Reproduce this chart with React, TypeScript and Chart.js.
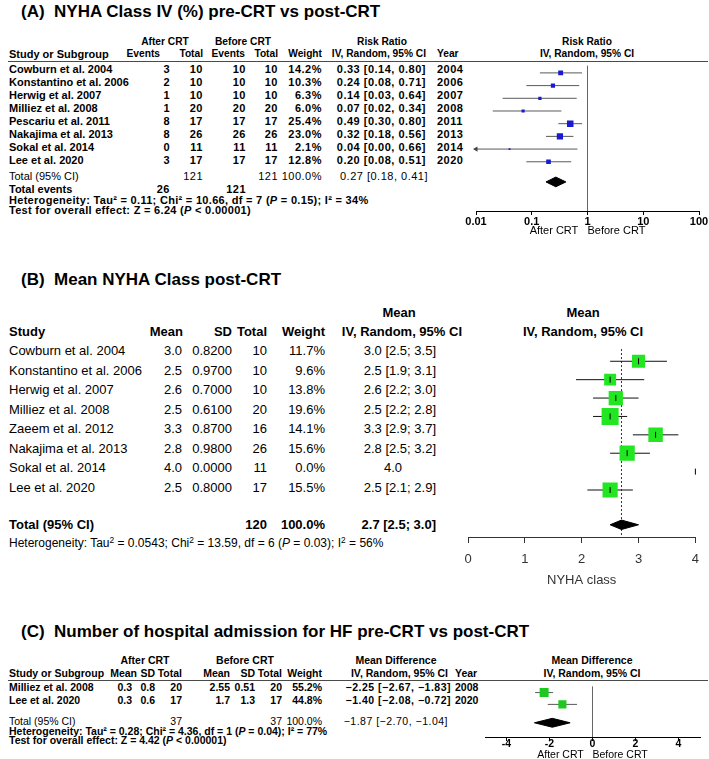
import React, { useEffect, useRef } from "react";
import { Chart, registerables } from "chart.js";

Chart.register(...registerables);

const SANS = '"Liberation Sans", Arial, Helvetica, sans-serif';
Chart.defaults.font.family = SANS;

// ---------- (A) NYHA Class IV (%) pre-CRT vs post-CRT ----------
const A_STUDIES = ["Cowburn et al. 2004", "Konstantino et al. 2006", "Herwig et al. 2007", "Milliez et al. 2008", "Pescariu et al. 2011", "Nakajima et al. 2013", "Sokal et al. 2014", "Lee et al. 2020"];
const A_AFTER_EVENTS = [3, 2, 1, 1, 8, 8, 0, 3];
const A_AFTER_TOTAL = [10, 10, 10, 20, 17, 26, 11, 17];
const A_BEFORE_EVENTS = [10, 10, 10, 20, 17, 26, 11, 17];
const A_BEFORE_TOTAL = [10, 10, 10, 20, 17, 26, 11, 17];
const A_WEIGHT = [14.2, 10.3, 6.3, 6.0, 25.4, 23.0, 2.1, 12.8];
const A_RR = [0.33, 0.24, 0.14, 0.07, 0.49, 0.32, 0.04, 0.2];
const A_LOW = [0.14, 0.08, 0.03, 0.02, 0.3, 0.18, 0.0, 0.08];
const A_HIGH = [0.8, 0.71, 0.64, 0.34, 0.8, 0.56, 0.66, 0.51];
const A_YEAR = [2004, 2006, 2007, 2008, 2011, 2013, 2014, 2020];
const A_POOLED = [0.27, 0.18, 0.41];
const A_TOTALS = [121, 121];
const A_TOTAL_EVENTS = [26, 121];
const A_TICKS = [0.01, 0.1, 1, 10, 100];

// ---------- (B) Mean NYHA Class post-CRT ----------
const B_STUDIES = ["Cowburn et al. 2004", "Konstantino et al. 2006", "Herwig et al. 2007", "Milliez et al. 2008", "Zaeem et al. 2012", "Nakajima et al. 2013", "Sokal et al. 2014", "Lee et al. 2020"];
const B_MEAN = [3.0, 2.5, 2.6, 2.5, 3.3, 2.8, 4.0, 2.5];
const B_SD = [0.82, 0.97, 0.7, 0.61, 0.87, 0.98, 0.0, 0.8];
const B_TOTAL = [10, 10, 10, 20, 16, 26, 11, 17];
const B_WEIGHT = [11.7, 9.6, 13.8, 19.6, 14.1, 15.6, 0.0, 15.5];
const B_LOW: (number | null)[] = [2.5, 1.9, 2.2, 2.2, 2.9, 2.5, null, 2.1];
const B_HIGH: (number | null)[] = [3.5, 3.1, 3.0, 2.8, 3.7, 3.2, null, 2.9];
const B_POOLED = [2.7, 2.5, 3.0];
const B_TOTAL_N = 120;
const B_TICKS = [0, 1, 2, 3, 4];

// ---------- (C) Hospital admission for HF ----------
const C_STUDIES = ["Milliez et al. 2008", "Lee et al. 2020"];
const C_AFTER_MEAN = [0.3, 0.3];
const C_AFTER_SD = [0.8, 0.6];
const C_AFTER_TOTAL = [20, 17];
const C_BEFORE_MEAN = [2.55, 1.7];
const C_BEFORE_SD = [0.51, 1.3];
const C_BEFORE_TOTAL = [20, 17];
const C_WEIGHT = [55.2, 44.8];
const C_MD = [-2.25, -1.4];
const C_LOW = [-2.67, -2.08];
const C_HIGH = [-1.83, -0.72];
const C_YEAR = [2008, 2020];
const C_POOLED = [-1.87, -2.7, -1.04];
const C_TOTALS = [37, 37];
const C_TICKS = [-4, -2, 0, 2, 4];

// ---------- layout (pixels) ----------
const LA = { rule: 61, row0: 68.5, pitch: 13.1, total: 176, diamond: 181, events: 189, het: 199.5, test: 210, axis: 211, cLeft: 451, cRight: 709, plotL: 476, plotR: 699, cBottom: 238 };
const LB = { top: 337, row0: 350, pitch: 19.57, total: 524, het: 543, axis: 537, cLeft: 448, cRight: 708, plotL: 468, plotR: 698, cBottom: 588 };
const LC = { rule: 680, row0: 687, pitch: 13.3, total: 721, het: 730.5, test: 740, axis: 737, cLeft: 465, cRight: 709, plotL: 485, plotR: 700, cBottom: 759 };

const rowPx = (L: { row0: number; pitch: number }, i: number) => L.row0 + L.pitch * i;
const rowIdx = (L: { row0: number; pitch: number }, px: number) => (px - L.row0) / L.pitch;

const TITLE: React.CSSProperties = { fontFamily: SANS, fontSize: 17, fontWeight: 700 };
const RB: React.CSSProperties = { fontFamily: SANS, fontSize: 11, fontWeight: 700 };
const RBh: React.CSSProperties = { ...RB, fontSize: 10.2 };
const RBn: React.CSSProperties = { ...RB, letterSpacing: 0.5 };
const RN: React.CSSProperties = { fontFamily: SANS, fontSize: 11, fontWeight: 400 };
const RNn: React.CSSProperties = { ...RN, letterSpacing: 0.5 };
const RH: React.CSSProperties = { ...RB, letterSpacing: 0.3 };
const CB: React.CSSProperties = { fontFamily: SANS, fontSize: 10.5, fontWeight: 700 };
const CBw: React.CSSProperties = { ...CB, letterSpacing: 0.5 };
const CN: React.CSSProperties = { fontFamily: SANS, fontSize: 10.5, fontWeight: 400 };
const CNw: React.CSSProperties = { ...CN, letterSpacing: 0.5 };
const MB: React.CSSProperties = { fontFamily: SANS, fontSize: 13, fontWeight: 700 };
const MN: React.CSSProperties = { fontFamily: SANS, fontSize: 13, fontWeight: 400 };
const MH: React.CSSProperties = { fontFamily: SANS, fontSize: 12, fontWeight: 400 };

function T({ x, y, a = "l", s, children }: { x: number; y: number; a?: "l" | "r" | "c"; s?: React.CSSProperties; children: React.ReactNode }) {
  const tx = a === "l" ? "0" : a === "r" ? "-100%" : "-50%";
  return (
    <div style={{ position: "absolute", left: x, top: y, transform: `translate(${tx},-50%)`, whiteSpace: "pre", lineHeight: 1, color: "#000", ...s }}>
      {children}
    </div>
  );
}

const Sup = ({ children }: { children: React.ReactNode }) => (
  <span style={{ fontSize: "0.7em", position: "relative", top: "-0.45em" }}>{children}</span>
);

function PlotCanvas({ left, top, width, height, make }: { left: number; top: number; width: number; height: number; make: () => any }) {
  const ref = useRef<HTMLCanvasElement>(null);
  useEffect(() => {
    const c = ref.current;
    if (!c) return;
    const chart = new Chart(c, make());
    return () => chart.destroy();
  }, []);
  return <canvas ref={ref} width={width} height={height} style={{ position: "absolute", left, top, width, height }} />;
}

const diamond = (est: number, lo: number, hi: number, row: number, half: number) => [
  { x: lo, y: row },
  { x: est, y: row - half },
  { x: hi, y: row },
  { x: est, y: row + half },
  { x: lo, y: row },
];

const lineDs = (data: any[], color: string, extra: any = {}) => ({
  type: "line",
  data,
  borderColor: color,
  borderWidth: 1,
  pointRadius: 0,
  fill: false,
  tension: 0,
  order: 5,
  ...extra,
});

function baseOptions(x: any, yMin: number, yMax: number, padL: number, padR: number) {
  return {
    responsive: false,
    animation: false,
    events: [],
    layout: { padding: { left: padL, right: padR, top: 0, bottom: 0 } },
    plugins: { legend: { display: false }, tooltip: { enabled: false }, title: { display: false } },
    scales: { x, y: { type: "linear", display: false, reverse: true, min: yMin, max: yMax } },
  };
}

function makeA() {
  const xMin = A_TICKS[0];
  const yMin = rowIdx(LA, LA.rule);
  const yMax = rowIdx(LA, LA.axis);
  const ds: any[] = [];
  A_RR.forEach((_, i) => {
    ds.push(lineDs([{ x: Math.max(A_LOW[i], xMin), y: i }, { x: A_HIGH[i], y: i }], "#5a5a5a"));
  });
  ds.push({
    type: "scatter",
    data: A_RR.map((v, i) => ({ x: v, y: i })),
    pointStyle: "rect",
    pointRadius: A_WEIGHT.map((w) => (1.3 * Math.sqrt(w)) / Math.SQRT2),
    backgroundColor: "#1a1ad0",
    borderWidth: 0,
    order: 2,
  });
  ds.push({
    type: "scatter",
    data: A_LOW.map((v, i) => (v < xMin ? { x: xMin, y: i } : null)).filter(Boolean),
    pointStyle: "triangle",
    rotation: -90,
    pointRadius: 3,
    backgroundColor: "#444",
    borderWidth: 0,
    clip: false,
    order: 1,
  });
  ds.push(
    lineDs(diamond(A_POOLED[0], A_POOLED[1], A_POOLED[2], rowIdx(LA, LA.diamond), 5 / LA.pitch), "#000", {
      fill: "shape",
      backgroundColor: "#000",
      order: 3,
    })
  );
  const x = {
    type: "logarithmic",
    min: A_TICKS[0],
    max: A_TICKS[A_TICKS.length - 1],
    afterBuildTicks: (s: any) => {
      s.ticks = A_TICKS.map((v) => ({ value: v }));
    },
    afterFit: (s: any) => {
      s.height = LA.cBottom - LA.axis;
    },
    ticks: { autoSkip: false, maxRotation: 0, padding: 0, color: "#000", font: { family: SANS, size: 11, weight: "bold" }, callback: (v: any) => String(v) },
    grid: {
      drawOnChartArea: true,
      tickLength: 4,
      lineWidth: 1,
      color: (c: any) => (c.tick && c.tick.value === 1 ? "#666666" : "rgba(0,0,0,0)"),
      tickColor: "#000",
    },
    border: { display: true, color: "#000", width: 1 },
    title: { display: true, text: "After CRT   Before CRT", color: "#000", font: { family: SANS, size: 11 }, padding: 0 },
  };
  return { type: "scatter", data: { datasets: ds }, options: baseOptions(x, yMin, yMax, LA.plotL - LA.cLeft, LA.cRight - LA.plotR) };
}

function makeB() {
  const yMin = rowIdx(LB, LB.top);
  const yMax = rowIdx(LB, LB.axis);
  const ds: any[] = [];
  B_MEAN.forEach((_, i) => {
    const lo = B_LOW[i];
    const hi = B_HIGH[i];
    if (lo !== null && hi !== null) ds.push(lineDs([{ x: lo, y: i }, { x: hi, y: i }], "#111"));
  });
  ds.push(lineDs([{ x: B_POOLED[0], y: yMin }, { x: B_POOLED[0], y: yMax }], "#333", { borderDash: [2, 2], order: 8 }));
  ds.push({
    type: "scatter",
    data: B_MEAN.map((v, i) => (B_WEIGHT[i] > 0 ? { x: v, y: i } : null)).filter(Boolean),
    pointStyle: "rect",
    pointRadius: B_WEIGHT.filter((w) => w > 0).map((w) => (3.85 * Math.sqrt(w)) / Math.SQRT2),
    backgroundColor: "#22e622",
    borderWidth: 0,
    order: 3,
  });
  ds.push({
    type: "scatter",
    data: B_MEAN.map((v, i) => ({ x: v, y: i })),
    pointStyle: "line",
    rotation: 90,
    pointRadius: 3,
    borderColor: "#000",
    borderWidth: 1,
    clip: false,
    order: 1,
  });
  ds.push(
    lineDs(diamond(B_POOLED[0], B_POOLED[1], B_POOLED[2], rowIdx(LB, LB.total), 5 / LB.pitch), "#000", {
      fill: "shape",
      backgroundColor: "#000",
      order: 2,
    })
  );
  const x = {
    type: "linear",
    min: B_TICKS[0],
    max: B_TICKS[B_TICKS.length - 1],
    afterBuildTicks: (s: any) => {
      s.ticks = B_TICKS.map((v) => ({ value: v }));
    },
    afterFit: (s: any) => {
      s.height = LB.cBottom - LB.axis;
    },
    ticks: { autoSkip: false, maxRotation: 0, padding: 9, color: "#333", font: { family: SANS, size: 13 } },
    grid: { drawOnChartArea: false, tickLength: 6, tickColor: "#333", lineWidth: 1 },
    border: { display: true, color: "#333", width: 1 },
    title: { display: true, text: "NYHA class", color: "#333", font: { family: SANS, size: 13 }, padding: 0 },
  };
  return { type: "scatter", data: { datasets: ds }, options: baseOptions(x, yMin, yMax, LB.plotL - LB.cLeft, LB.cRight - LB.plotR) };
}

function makeC() {
  const yMin = rowIdx(LC, LC.rule);
  const yMax = rowIdx(LC, LC.axis);
  const ds: any[] = [];
  C_MD.forEach((_, i) => {
    ds.push(lineDs([{ x: C_LOW[i], y: i }, { x: C_HIGH[i], y: i }], "#5a5a5a"));
  });
  ds.push({
    type: "scatter",
    data: C_MD.map((v, i) => ({ x: v, y: i })),
    pointStyle: "rect",
    pointRadius: C_WEIGHT.map((w) => (1.21 * Math.sqrt(w)) / Math.SQRT2),
    backgroundColor: "#1ec81e",
    borderWidth: 0,
    order: 2,
  });
  ds.push(
    lineDs(diamond(C_POOLED[0], C_POOLED[1], C_POOLED[2], rowIdx(LC, LC.total), 5 / LC.pitch), "#000", {
      fill: "shape",
      backgroundColor: "#000",
      order: 3,
    })
  );
  const x = {
    type: "linear",
    min: -5,
    max: 5,
    afterBuildTicks: (s: any) => {
      s.ticks = C_TICKS.map((v) => ({ value: v }));
    },
    afterFit: (s: any) => {
      s.height = LC.cBottom - LC.axis;
    },
    ticks: { autoSkip: false, maxRotation: 0, padding: -3, color: "#000", font: { family: SANS, size: 10.5, weight: "bold" } },
    grid: {
      drawOnChartArea: true,
      tickLength: 4,
      lineWidth: 1,
      color: (c: any) => (c.tick && c.tick.value === 0 ? "#666666" : "rgba(0,0,0,0)"),
      tickColor: "#000",
    },
    border: { display: true, color: "#000", width: 1 },
    title: { display: true, text: "After CRT   Before CRT", color: "#000", font: { family: SANS, size: 10.5 }, padding: { top: 0, bottom: -2 } },
  };
  return { type: "scatter", data: { datasets: ds }, options: baseOptions(x, yMin, yMax, LC.plotL - LC.cLeft, LC.cRight - LC.plotR) };
}

const f2 = (v: number) => v.toFixed(2);
const f1 = (v: number) => v.toFixed(1);
const neg = (v: number) => (v < 0 ? "\u2212" + Math.abs(v).toFixed(2) : v.toFixed(2));

function Rule({ y }: { y: number }) {
  return <div style={{ position: "absolute", left: 8, top: y, width: 700, height: 1, background: "#4a4a4a" }} />;
}

export default function App() {
  return (
    <div style={{ position: "fixed", left: 0, top: 0, width: 709, height: 759, overflow: "hidden", background: "#fff", fontFamily: SANS }}>
      {/* ===== Panel A ===== */}
      <T x={21} y={11} s={TITLE}>{"(A)  NYHA Class IV (%) pre-CRT vs post-CRT"}</T>
      <T x={165} y={42} a="c" s={RBh}>After CRT</T>
      <T x={243} y={42} a="c" s={RBh}>Before CRT</T>
      <T x={382} y={42} a="c" s={RBh}>Risk Ratio</T>
      <T x={587} y={42} a="c" s={RBh}>Risk Ratio</T>
      <T x={9} y={54} s={RB}>Study or Subgroup</T>
      <T x={160} y={54} a="r" s={RBh}>Events</T>
      <T x={203} y={54} a="r" s={RBh}>Total</T>
      <T x={245} y={54} a="r" s={RBh}>Events</T>
      <T x={278} y={54} a="r" s={RBh}>Total</T>
      <T x={322} y={54} a="r" s={RBh}>Weight</T>
      <T x={426} y={54} a="r" s={RBh}>IV, Random, 95% CI</T>
      <T x={437} y={54} s={RBh}>Year</T>
      <T x={587} y={54} a="c" s={RBh}>IV, Random, 95% CI</T>
      <Rule y={LA.rule} />
      {A_STUDIES.map((name, i) => {
        const y = rowPx(LA, i);
        return (
          <React.Fragment key={"a" + i}>
            <T x={9} y={y} s={RB}>{name}</T>
            <T x={170} y={y} a="r" s={RBn}>{String(A_AFTER_EVENTS[i])}</T>
            <T x={203} y={y} a="r" s={RBn}>{String(A_AFTER_TOTAL[i])}</T>
            <T x={246} y={y} a="r" s={RBn}>{String(A_BEFORE_EVENTS[i])}</T>
            <T x={278} y={y} a="r" s={RBn}>{String(A_BEFORE_TOTAL[i])}</T>
            <T x={322} y={y} a="r" s={RBn}>{f1(A_WEIGHT[i]) + "%"}</T>
            <T x={426} y={y} a="r" s={RBn}>{`${f2(A_RR[i])} [${f2(A_LOW[i])}, ${f2(A_HIGH[i])}]`}</T>
            <T x={437} y={y} s={RBn}>{String(A_YEAR[i])}</T>
          </React.Fragment>
        );
      })}
      <T x={9} y={LA.total} s={RN}>Total (95% CI)</T>
      <T x={203} y={LA.total} a="r" s={RNn}>{String(A_TOTALS[0])}</T>
      <T x={278} y={LA.total} a="r" s={RNn}>{String(A_TOTALS[1])}</T>
      <T x={322} y={LA.total} a="r" s={RNn}>100.0%</T>
      <T x={428} y={LA.total} a="r" s={RNn}>{`${f2(A_POOLED[0])} [${f2(A_POOLED[1])}, ${f2(A_POOLED[2])}]`}</T>
      <T x={9} y={LA.events} s={RB}>Total events</T>
      <T x={170} y={LA.events} a="r" s={RBn}>{String(A_TOTAL_EVENTS[0])}</T>
      <T x={246} y={LA.events} a="r" s={RBn}>{String(A_TOTAL_EVENTS[1])}</T>
      <T x={9} y={LA.het} s={RH}>
        Heterogeneity: Tau² = 0.11; Chi² = 10.66, df = 7 (<i>P</i> = 0.15); I² = 34%
      </T>
      <T x={9} y={LA.test} s={RH}>
        Test for overall effect: Z = 6.24 (<i>P</i> &lt; 0.00001)
      </T>
      <PlotCanvas left={LA.cLeft} top={LA.rule} width={LA.cRight - LA.cLeft} height={LA.cBottom - LA.rule} make={makeA} />

      {/* ===== Panel B ===== */}
      <T x={21} y={279} s={TITLE}>{"(B)  Mean NYHA Class post-CRT"}</T>
      <T x={399} y={312} a="c" s={MB}>Mean</T>
      <T x={583} y={312} a="c" s={MB}>Mean</T>
      <T x={9} y={331} s={MB}>Study</T>
      <T x={183} y={331} a="r" s={MB}>Mean</T>
      <T x={232} y={331} a="r" s={MB}>SD</T>
      <T x={267} y={331} a="r" s={MB}>Total</T>
      <T x={325} y={331} a="r" s={MB}>Weight</T>
      <T x={462} y={331} a="r" s={MB}>IV, Random, 95% CI</T>
      <T x={583} y={331} a="c" s={MB}>IV, Random, 95% CI</T>
      {B_STUDIES.map((name, i) => {
        const y = rowPx(LB, i);
        const lo = B_LOW[i];
        const hi = B_HIGH[i];
        return (
          <React.Fragment key={"b" + i}>
            <T x={9} y={y} s={MN}>{name}</T>
            <T x={182} y={y} a="r" s={MN}>{f1(B_MEAN[i])}</T>
            <T x={232} y={y} a="r" s={MN}>{B_SD[i].toFixed(4)}</T>
            <T x={267} y={y} a="r" s={MN}>{String(B_TOTAL[i])}</T>
            <T x={325} y={y} a="r" s={MN}>{f1(B_WEIGHT[i]) + "%"}</T>
            {lo !== null && hi !== null ? (
              <T x={436} y={y} a="r" s={MN}>{`${f1(B_MEAN[i])} [${f1(lo)}; ${f1(hi)}]`}</T>
            ) : (
              <T x={384} y={y} s={MN}>{f1(B_MEAN[i])}</T>
            )}
          </React.Fragment>
        );
      })}
      <T x={9} y={LB.total} s={MB}>Total (95% CI)</T>
      <T x={267} y={LB.total} a="r" s={MB}>{String(B_TOTAL_N)}</T>
      <T x={325} y={LB.total} a="r" s={MB}>100.0%</T>
      <T x={436} y={LB.total} a="r" s={MB}>{`${f1(B_POOLED[0])} [${f1(B_POOLED[1])}; ${f1(B_POOLED[2])}]`}</T>
      <T x={9} y={LB.het} s={MH}>
        Heterogeneity: Tau<Sup>2</Sup> = 0.0543; Chi<Sup>2</Sup> = 13.59, df = 6 (<i>P</i> = 0.03); I<Sup>2</Sup> = 56%
      </T>
      <PlotCanvas left={LB.cLeft} top={LB.top} width={LB.cRight - LB.cLeft} height={LB.cBottom - LB.top} make={makeB} />

      {/* ===== Panel C ===== */}
      <T x={21} y={631} s={TITLE}>{"(C)  Number of hospital admission for HF pre-CRT vs post-CRT"}</T>
      <T x={145} y={660} a="c" s={CB}>After CRT</T>
      <T x={245} y={660} a="c" s={CB}>Before CRT</T>
      <T x={396} y={660} a="c" s={CB}>Mean Difference</T>
      <T x={592} y={660} a="c" s={CB}>Mean Difference</T>
      <T x={9} y={673} s={CB}>Study or Subgroup</T>
      <T x={137} y={673} a="r" s={CB}>Mean</T>
      <T x={155} y={673} a="r" s={CB}>SD</T>
      <T x={182} y={673} a="r" s={CB}>Total</T>
      <T x={230} y={673} a="r" s={CB}>Mean</T>
      <T x={255} y={673} a="r" s={CB}>SD</T>
      <T x={282} y={673} a="r" s={CB}>Total</T>
      <T x={322} y={673} a="r" s={CB}>Weight</T>
      <T x={448} y={673} a="r" s={CB}>IV, Random, 95% CI</T>
      <T x={455} y={673} s={CB}>Year</T>
      <T x={592} y={673} a="c" s={CB}>IV, Random, 95% CI</T>
      <Rule y={LC.rule} />
      {C_STUDIES.map((name, i) => {
        const y = rowPx(LC, i);
        return (
          <React.Fragment key={"c" + i}>
            <T x={9} y={y} s={CB}>{name}</T>
            <T x={132} y={y} a="r" s={CB}>{String(C_AFTER_MEAN[i])}</T>
            <T x={155} y={y} a="r" s={CB}>{String(C_AFTER_SD[i])}</T>
            <T x={182} y={y} a="r" s={CB}>{String(C_AFTER_TOTAL[i])}</T>
            <T x={230} y={y} a="r" s={CB}>{String(C_BEFORE_MEAN[i])}</T>
            <T x={255} y={y} a="r" s={CB}>{String(C_BEFORE_SD[i])}</T>
            <T x={282} y={y} a="r" s={CB}>{String(C_BEFORE_TOTAL[i])}</T>
            <T x={322} y={y} a="r" s={CB}>{f1(C_WEIGHT[i]) + "%"}</T>
            <T x={451} y={y} a="r" s={CBw}>{`${neg(C_MD[i])} [${neg(C_LOW[i])}, ${neg(C_HIGH[i])}]`}</T>
            <T x={455} y={y} s={CB}>{String(C_YEAR[i])}</T>
          </React.Fragment>
        );
      })}
      <T x={9} y={LC.total} s={CN}>Total (95% CI)</T>
      <T x={182} y={LC.total} a="r" s={CN}>{String(C_TOTALS[0])}</T>
      <T x={282} y={LC.total} a="r" s={CN}>{String(C_TOTALS[1])}</T>
      <T x={322} y={LC.total} a="r" s={CN}>100.0%</T>
      <T x={448} y={LC.total} a="r" s={CNw}>{`${neg(C_POOLED[0])} [${neg(C_POOLED[1])}, ${neg(C_POOLED[2])}]`}</T>
      <T x={9} y={LC.het} s={CB}>
        Heterogeneity: Tau² = 0.28; Chi² = 4.36, df = 1 (<i>P</i> = 0.04); I² = 77%
      </T>
      <T x={9} y={LC.test} s={CB}>
        Test for overall effect: Z = 4.42 (<i>P</i> &lt; 0.00001)
      </T>
      <PlotCanvas left={LC.cLeft} top={LC.rule} width={LC.cRight - LC.cLeft} height={LC.cBottom - LC.rule} make={makeC} />
    </div>
  );
}
